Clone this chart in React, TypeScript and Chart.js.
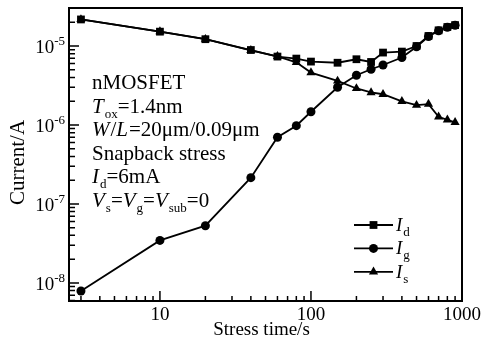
import React, { useEffect, useRef } from "react";
import { Chart, registerables } from "chart.js";

Chart.register(...registerables);

// ---- data ----
const stressTime = [3, 10, 20, 40, 60, 80, 100, 150, 200, 250, 300, 400, 500, 600, 700, 800, 900];
const currentId = [2.17e-5, 1.52e-5, 1.22e-5, 8.9e-6, 7.35e-6, 6.93e-6, 6.35e-6, 6.14e-6, 6.8e-6, 6.28e-6, 8.26e-6, 8.5e-6, 1.0e-5, 1.34e-5, 1.58e-5, 1.74e-5, 1.84e-5];
const currentIg = [7.9e-9, 3.45e-8, 5.3e-8, 2.15e-7, 7.0e-7, 9.8e-7, 1.47e-6, 3.0e-6, 4.27e-6, 5.08e-6, 5.75e-6, 7.14e-6, 9.8e-6, 1.32e-5, 1.56e-5, 1.73e-5, 1.83e-5];
const currentIs = [2.17e-5, 1.52e-5, 1.22e-5, 8.8e-6, 7.4e-6, 6.22e-6, 4.61e-6, 3.61e-6, 2.9e-6, 2.58e-6, 2.45e-6, 1.99e-6, 1.78e-6, 1.84e-6, 1.27e-6, 1.16e-6, 1.08e-6];
const seriesSubs = ["d", "g", "s"];
const seriesMarkers = ["rect", "circle", "triangle"];
const xTickValues = [10, 100, 1000];
const xTickLabels = ["10", "100", "1000"];
const yTickExponents = [-8, -7, -6, -5];
const xLimits = [2.5, 1000];
const yLimits = [5.9e-9, 3.03e-5];
const xTitle = "Stress time/s";
const yTitle = "Current/A";

const SERIF = "'Liberation Serif', 'Times New Roman', serif";

type Seg = { t: string; it?: boolean; sub?: boolean };

const noteLines: Seg[][] = [
  [{ t: "nMOSFET" }],
  [{ t: "T", it: true }, { t: "ox", sub: true }, { t: "=1.4nm" }],
  [{ t: "W", it: true }, { t: "/" }, { t: "L", it: true }, { t: "=20μm/0.09μm" }],
  [{ t: "Snapback stress" }],
  [{ t: "I", it: true }, { t: "d", sub: true }, { t: "=6mA" }],
  [
    { t: "V", it: true }, { t: "s", sub: true }, { t: "=" },
    { t: "V", it: true }, { t: "g", sub: true }, { t: "=" },
    { t: "V", it: true }, { t: "sub", sub: true }, { t: "=0" },
  ],
];

function drawRich(ctx: CanvasRenderingContext2D, segs: Seg[], x: number, y: number, size: number, subSize: number, subDrop: number) {
  let cx = x;
  for (const s of segs) {
    const sz = s.sub ? subSize : size;
    ctx.font = `${s.it ? "italic " : ""}${sz}px ${SERIF}`;
    ctx.fillText(s.t, cx, s.sub ? y + subDrop : y);
    cx += ctx.measureText(s.t).width + (s.it ? 1 : 0);
  }
}

function drawMarker(ctx: CanvasRenderingContext2D, style: string, x: number, y: number) {
  ctx.beginPath();
  if (style === "rect") {
    ctx.rect(x - 3.9, y - 3.9, 7.8, 7.8);
  } else if (style === "circle") {
    ctx.arc(x, y, 4.5, 0, Math.PI * 2);
  } else {
    const r = 5.3;
    ctx.moveTo(x, y - r);
    ctx.lineTo(x + r * 0.866, y + r * 0.5);
    ctx.lineTo(x - r * 0.866, y + r * 0.5);
    ctx.closePath();
  }
  ctx.fill();
}

const decor = {
  id: "decor",
  afterDraw(chart: any) {
    const { ctx, chartArea: a, scales } = chart;
    const xs = scales.x;
    const ys = scales.y;
    ctx.save();
    ctx.strokeStyle = "#000";
    ctx.fillStyle = "#000";

    // frame
    ctx.lineWidth = 2;
    ctx.strokeRect(a.left, a.top, a.right - a.left, a.bottom - a.top);

    // inward ticks
    ctx.lineWidth = 1.5;
    ctx.beginPath();
    for (let e = -10; e <= -4; e++) {
      for (let m = 1; m <= 9; m++) {
        const v = m * Math.pow(10, e);
        if (v < yLimits[0] || v > yLimits[1]) continue;
        const py = ys.getPixelForValue(v);
        ctx.moveTo(a.left, py);
        ctx.lineTo(a.left + (m === 1 ? 10 : 6), py);
      }
    }
    for (let e = 0; e <= 3; e++) {
      for (let m = 1; m <= 9; m++) {
        const v = m * Math.pow(10, e);
        if (v < xLimits[0] || v > xLimits[1]) continue;
        const px = xs.getPixelForValue(v);
        ctx.moveTo(px, a.bottom);
        ctx.lineTo(px, a.bottom - (m === 1 ? 10 : 5));
      }
    }
    ctx.stroke();

    // x tick labels
    ctx.textBaseline = "alphabetic";
    ctx.textAlign = "center";
    ctx.font = `19px ${SERIF}`;
    xTickValues.forEach((v, i) => {
      ctx.fillText(xTickLabels[i], xs.getPixelForValue(v), a.bottom + 19);
    });

    // y tick labels 10^n
    ctx.textAlign = "left";
    yTickExponents.forEach((ex) => {
      const py = ys.getPixelForValue(Math.pow(10, ex));
      ctx.font = `13px ${SERIF}`;
      const sup = String(ex);
      const wSup = ctx.measureText(sup).width;
      ctx.font = `19px ${SERIF}`;
      const wBase = ctx.measureText("10").width;
      const right = a.left - 4;
      ctx.fillText("10", right - wSup - wBase, py + 7);
      ctx.font = `13px ${SERIF}`;
      ctx.fillText(sup, right - wSup, py - 1);
    });

    // axis titles
    ctx.textAlign = "center";
    ctx.font = `19px ${SERIF}`;
    ctx.fillText(xTitle, (a.left + a.right) / 2 - 4, a.bottom + 34);
    ctx.save();
    ctx.translate(24, (a.top + a.bottom) / 2 + 8);
    ctx.rotate(-Math.PI / 2);
    ctx.font = `21px ${SERIF}`;
    ctx.fillText(yTitle, 0, 0);
    ctx.restore();

    // annotation
    ctx.textAlign = "left";
    noteLines.forEach((segs, i) => {
      drawRich(ctx, segs, a.left + 23, a.top + 81 + i * 23.6, 21, 13, 5);
    });

    // legend
    const lx0 = a.left + 285;
    const lx1 = a.left + 324;
    chart.data.datasets.forEach((ds: any, i: number) => {
      const ly = a.top + 217 + i * 23.4;
      ctx.lineWidth = 1.8;
      ctx.beginPath();
      ctx.moveTo(lx0, ly);
      ctx.lineTo(lx1, ly);
      ctx.stroke();
      drawMarker(ctx, ds.pointStyle, (lx0 + lx1) / 2, ly);
      drawRich(ctx, [{ t: "I", it: true }, { t: seriesSubs[i], sub: true }], lx1 + 3, ly + 6, 19, 13, 5);
    });

    ctx.restore();
  },
};

function makePoints(ys: number[]) {
  return stressTime.map((x, i) => ({ x, y: ys[i] }));
}

export default function App() {
  const ref = useRef<HTMLCanvasElement | null>(null);

  useEffect(() => {
    if (!ref.current) return;
    const seriesValues = [currentId, currentIg, currentIs];
    const chart = new Chart(ref.current, {
      type: "line",
      data: {
        datasets: seriesValues.map((vals, i) => ({
          label: "I" + seriesSubs[i],
          data: makePoints(vals),
          borderColor: "#000",
          backgroundColor: "#000",
          borderWidth: 1.8,
          pointStyle: seriesMarkers[i] as any,
          pointRadius: seriesMarkers[i] === "rect" ? 5.5 : seriesMarkers[i] === "circle" ? 4.5 : 5.3,
          pointBorderWidth: 0,
          tension: 0,
        })),
      },
      options: {
        responsive: false,
        animation: false,
        events: [],
        layout: { padding: { top: 8, right: 22, left: 0, bottom: 0 } },
        plugins: { legend: { display: false }, tooltip: { enabled: false }, title: { display: false } },
        scales: {
          x: {
            type: "logarithmic",
            min: xLimits[0],
            max: xLimits[1],
            grid: { display: false },
            border: { display: false },
            ticks: { display: false },
            afterFit: (s: any) => { s.height = 45; },
          },
          y: {
            type: "logarithmic",
            min: yLimits[0],
            max: yLimits[1],
            grid: { display: false },
            border: { display: false },
            ticks: { display: false },
            afterFit: (s: any) => { s.width = 69; },
          },
        },
      },
      plugins: [decor],
    });
    return () => chart.destroy();
  }, []);

  return (
    <div style={{ position: "fixed", left: 0, top: 0, width: 484, height: 346, background: "#fff" }}>
      <canvas ref={ref} width={484} height={346} style={{ display: "block" }} />
    </div>
  );
}
